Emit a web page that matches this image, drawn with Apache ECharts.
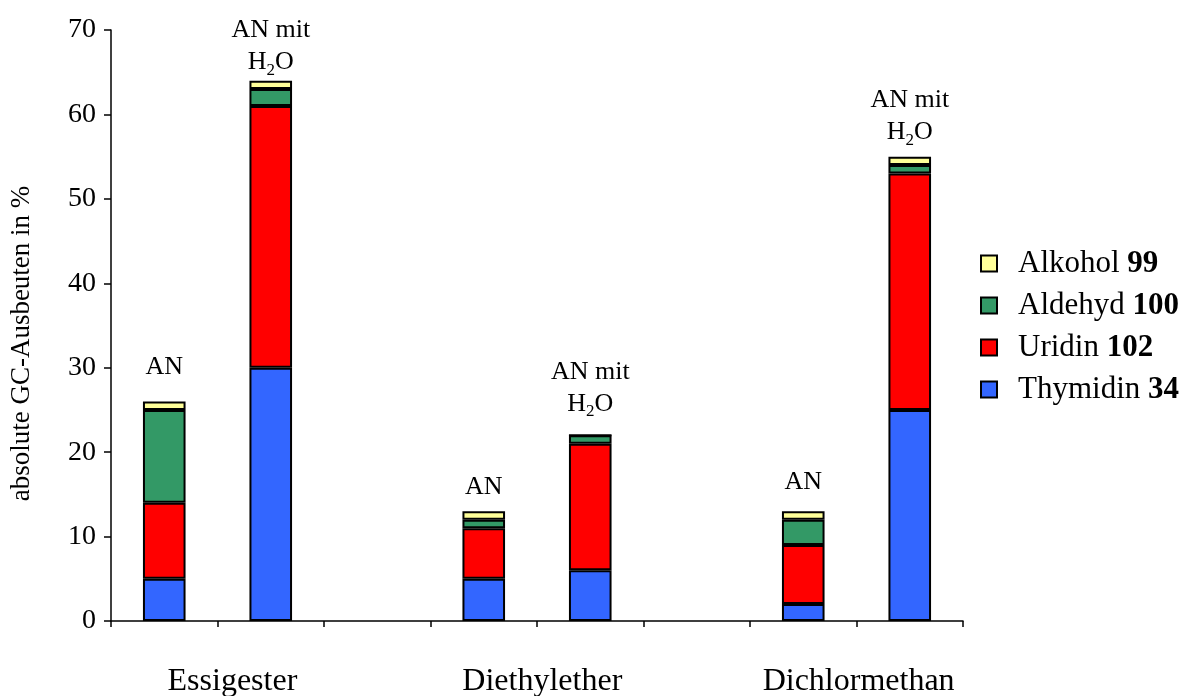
<!DOCTYPE html>
<html><head><meta charset="utf-8">
<script src="https://cdn.jsdelivr.net/npm/echarts@6/dist/echarts.min.js"></script>
<style>html,body{margin:0;padding:0;background:#fff}#c{width:1182px;height:696px}</style>
</head><body><div id="c"></div>
<script>
// slots: 8 category slots, empty slots separate the solvent groups
const slots = ['Ess-AN','Ess-H2O','gap1','Die-AN','Die-H2O','gap2','Dic-AN','Dic-H2O'];
const groupNames = ['Essigester','Diethylether','Dichlormethan'];
const groupCenters = [1.14, 4.05, 7.02]; // in slot units along the axis
const barLabels = ['AN','H2O','','AN','H2O','','AN','H2O'];
const thymidin = [5, 30, null, 5, 6, null, 2, 25];
const uridin   = [9, 31, null, 6, 15, null, 7, 28];
const aldehyd  = [11, 2, null, 1, 1, null, 3, 1];
const alkohol  = [1, 1, null, 1, 0, null, 1, 1];
const yTicks = [0, 10, 20, 30, 40, 50, 60, 70];

const seriesDefs = [
  {name: 'Thymidin 34', data: thymidin, color: '#3366FF'},
  {name: 'Uridin 102', data: uridin, color: '#FF0000'},
  {name: 'Aldehyd 100', data: aldehyd, color: '#339966'},
  {name: 'Alkohol 99', data: alkohol, color: '#FFFF99'}
];
const labelDist = [18, 2, 0, 8, 14, 0, 13, 8];
const FONT = '"Liberation Serif", "Times New Roman", serif';

const series = seriesDefs.map((s, si) => ({
  name: s.name, type: 'bar', stack: 'all', barWidth: '40%',
  itemStyle: {color: s.color, borderColor: '#000', borderWidth: 2},
  data: s.data.map((v, i) => {
    const item = {value: v};
    if (si === seriesDefs.length - 1 && barLabels[i]) {
      item.label = {show: true, position: 'top', distance: labelDist[i]};
    }
    return item;
  }),
  label: {
    show: false, fontFamily: FONT, color: '#000',
    formatter: p => barLabels[p.dataIndex] === 'AN' ? '{a|AN}' : '{a|AN mit}\n{a|H}{s|2}{a|O}',
    rich: {
      a: {fontFamily: FONT, fontSize: 26, lineHeight: 32, color: '#000'},
      s: {fontFamily: FONT, fontSize: 17, lineHeight: 32, verticalAlign: 'bottom', color: '#000'}
    }
  },
  emphasis: {disabled: true}, animation: false
}));

const chart = echarts.init(document.getElementById('c'), null, {renderer: 'canvas'});
chart.setOption({
  animation: false,
  grid: {left: 111, top: 30, right: 219, bottom: 75, containLabel: false, outerBoundsMode: 'none'},
  legend: {
    orient: 'vertical', left: 975, top: 243, itemWidth: 16, itemHeight: 16, itemGap: 11,
    icon: 'rect',
    data: ['Alkohol 99', 'Aldehyd 100', 'Uridin 102', 'Thymidin 34'],
    formatter: n => { const k = n.lastIndexOf(' '); return '{n|' + n.slice(0, k) + ' }{b|' + n.slice(k + 1) + '}'; },
    textStyle: {
      fontFamily: FONT, fontSize: 31, color: '#000', padding: [0, 0, 0, 16],
      rich: {
        n: {fontFamily: FONT, fontSize: 31, color: '#000'},
        b: {fontFamily: FONT, fontSize: 31, fontWeight: 'bold', color: '#000'}
      }
    },
    selectedMode: false
  },
  xAxis: [
    {
      type: 'category', data: slots,
      axisLine: {lineStyle: {color: '#000', width: 1.5}},
      axisTick: {show: true, length: 6, lineStyle: {color: '#000', width: 1.5}},
      axisLabel: {show: false}
    },
    {
      type: 'value', min: 0, max: slots.length, position: 'bottom',
      axisLine: {show: false}, axisTick: {show: false}, splitLine: {show: false},
      axisLabel: {
        customValues: groupCenters, margin: 45,
        fontFamily: FONT, fontSize: 32, color: '#000',
        formatter: v => { const i = groupCenters.indexOf(v); return i >= 0 ? groupNames[i] : ''; }
      }
    }
  ],
  yAxis: {
    type: 'value', min: 0, max: 70, interval: 10,
    name: 'absolute GC-Ausbeuten in %', nameLocation: 'middle', nameGap: 76,
    nameTextStyle: {fontFamily: FONT, fontSize: 27, color: '#000', padding: [0, 36, 0, 0]},
    axisLine: {show: true, lineStyle: {color: '#000', width: 1.5}},
    axisTick: {show: true, length: 7, lineStyle: {color: '#000', width: 1.5}},
    splitLine: {show: false},
    axisLabel: {margin: 15, fontFamily: FONT, fontSize: 28, color: '#000',
      customValues: yTicks}
  },
  series: series
});
</script>
</body></html>
